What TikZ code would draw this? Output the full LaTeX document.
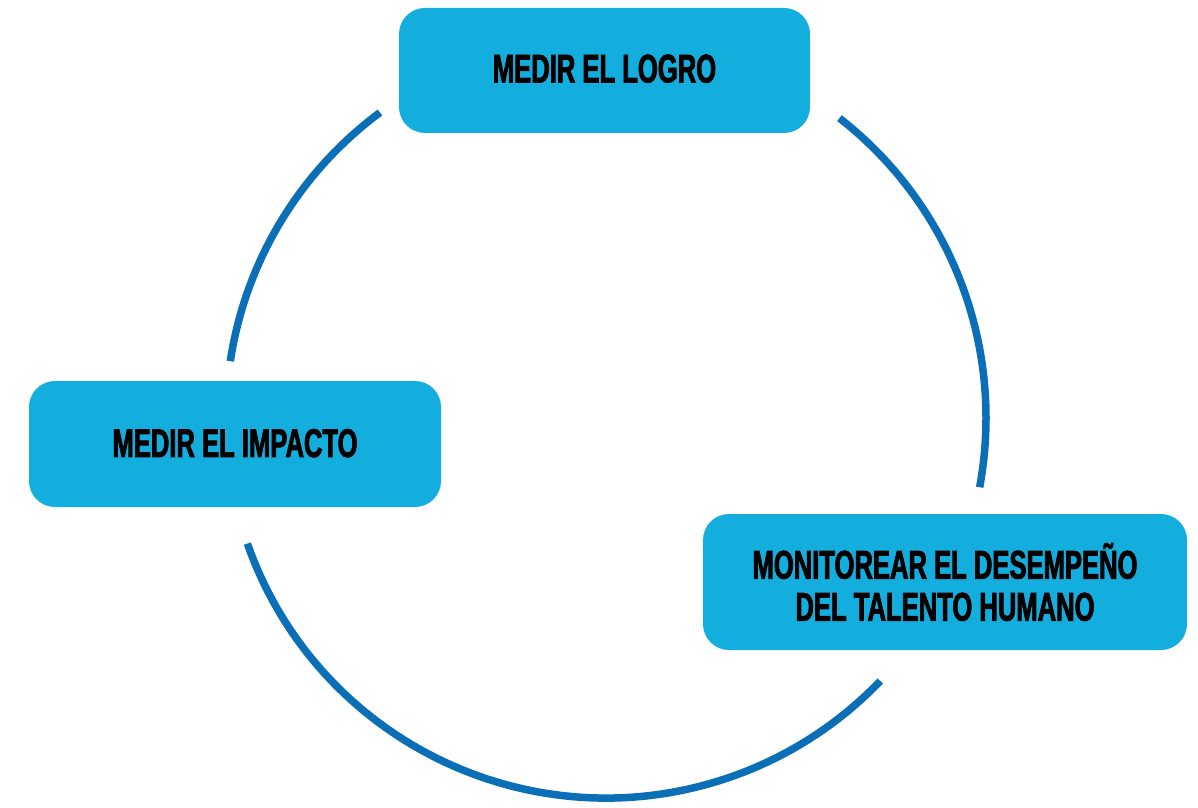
\documentclass[tikz,border=0pt]{standalone}
\usepackage{fontspec}
\newfontfamily\condfont[FakeStretch=0.64,FakeBold=2]{Liberation Sans Bold}
\definecolor{boxblue}{RGB}{19,174,222}
\definecolor{arcblue}{RGB}{11,111,184}
\begin{document}
\begin{tikzpicture}[x=1pt,y=1pt,
  stepbox/.style={fill=boxblue, draw=none, rounded corners=26pt, align=center,
    font=\condfont\fontsize{40}{42}\selectfont, text=black, inner sep=0pt},
  ring/.style={draw=arcblue, line width=7.5pt, line cap=butt}]
\useasboundingbox (0,0) rectangle (1198,807);
\coordinate (c) at (606,389);
\node[stepbox, minimum width=411pt, minimum height=125pt] (logro) at (604.5,736.5) {\raisebox{4pt}{MEDIR EL LOGRO}};
\node[stepbox, minimum width=412pt, minimum height=126pt] (impacto) at (235,363) {\raisebox{2pt}{MEDIR EL IMPACTO}};
\node[stepbox, minimum width=484pt, minimum height=136pt] (monitor) at (945,225) {MONITOREAR EL DESEMPEÑO\\DEL TALENTO HUMANO};
\draw[ring] ([shift={(126.5:380)}]c) arc[start angle=126.5, end angle=171.4, radius=380];
\draw[ring] ([shift={(52.1:380)}]c) arc[start angle=52.1, end angle=-10.5, radius=380];
\draw[ring] ([shift={(199.3:380)}]c) arc[start angle=199.3, end angle=316.2, radius=380];
\end{tikzpicture}
\end{document}
